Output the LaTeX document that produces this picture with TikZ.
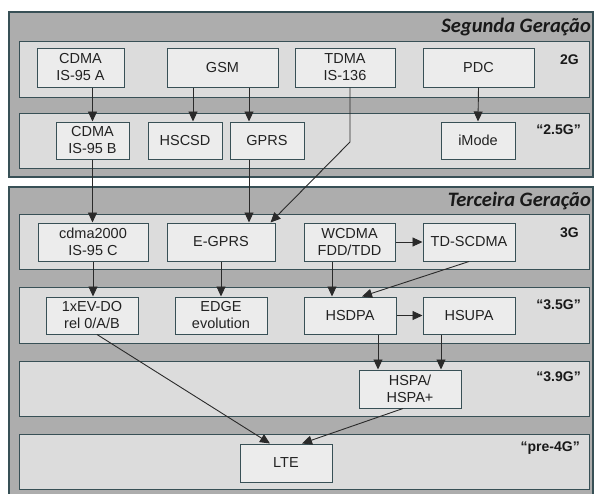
\documentclass[tikz,border=0pt]{standalone}
\usepackage{fontspec}
\setmainfont{Liberation Sans}
\newfontfamily\titlefont{Carlito}
\usetikzlibrary{arrows.meta}

\definecolor{edgecol}{HTML}{385056}
\definecolor{panelfill}{HTML}{ADADAD}
\definecolor{rowfill}{HTML}{DCDCDC}
\definecolor{boxfill}{HTML}{ECECEC}
\definecolor{txtcol}{HTML}{222222}
\definecolor{linecol}{HTML}{2A2A2A}

\tikzset{
  panel/.style={draw=edgecol, line width=1.1pt, fill=panelfill},
  band/.style={draw=edgecol, line width=1pt, fill=rowfill},
  techbox/.style={draw=edgecol, line width=1pt, fill=boxfill, align=center,
    inner sep=0pt, text=txtcol, font=\fontsize{14.5}{17}\selectfont},
  genlabel/.style={anchor=east, inner sep=0pt, text=black!90,
    font=\fontsize{14}{16}\selectfont\bfseries},
  gentitle/.style={anchor=base east, inner sep=0pt, text=black!90,
    font=\titlefont\fontsize{20.5}{23}\selectfont\bfseries\itshape},
  arr/.style={draw=linecol, line width=0.9pt,
    -{Triangle[length=10pt,width=9pt]}},
}

\begin{document}
\begin{tikzpicture}[x=1pt, y=-1pt]
\useasboundingbox[fill=white] (0,0) rectangle (594,493);

% second generation panel
\path[panel] (9,12) rectangle (593,177);
\node[gentitle] (t2) at (591,32) {Segunda Geração};
\path[band] (19,41) rectangle (589,97);
\path[band] (19,113) rectangle (589,168);

% third generation panel
\path[panel] (9,187) rectangle (593,497);
\node[gentitle] (t3) at (591,206) {Terceira Geração};
\path[band] (19,214) rectangle (589,269);
\path[band] (19,287) rectangle (589,343);
\path[band] (19,361) rectangle (589,416);
\path[band] (19,434) rectangle (589,489);

% generation labels
\node[genlabel] (l2g)  at (579,60)  {2G};
\node[genlabel] (l25g) at (581,130) {“2.5G”};
\node[genlabel] (l3g)  at (579,233) {3G};
\node[genlabel] (l35g) at (581,305) {“3.5G”};
\node[genlabel] (l39g) at (581,377) {“3.9G”};
\node[genlabel] (l4g)  at (580,448) {“pre-4G”};

% 2G
\node[techbox, minimum width=87pt,  minimum height=39pt] (a95a) at (80.5,67.5) {CDMA\\IS-95 A};
\node[techbox, minimum width=111pt, minimum height=39pt] (gsm)  at (222.5,67.5) {GSM};
\node[techbox, minimum width=100pt, minimum height=39pt] (tdma) at (345,67.5) {TDMA\\IS-136};
\node[techbox, minimum width=111pt, minimum height=39pt] (pdc)  at (478.5,67.5) {PDC};

% 2.5G
\node[techbox, minimum width=73pt, minimum height=37pt] (b95)   at (92.5,140.5) {CDMA\\IS-95 B};
\node[techbox, minimum width=74pt, minimum height=37pt] (hscsd) at (185,140.5) {HSCSD};
\node[techbox, minimum width=74pt, minimum height=37pt] (gprs)  at (267,140.5) {GPRS};
\node[techbox, minimum width=74pt, minimum height=37pt] (imode) at (478,140.5) {iMode};

% 3G
\node[techbox, minimum width=110pt, minimum height=38pt] (c2k)     at (93,242) {cdma2000\\IS-95 C};
\node[techbox, minimum width=108pt, minimum height=38pt] (egprs)   at (221,242) {E-GPRS};
\node[techbox, minimum width=91pt,  minimum height=38pt] (wcdma)   at (349.5,242) {WCDMA\\FDD/TDD};
\node[techbox, minimum width=92pt,  minimum height=38pt] (tdscdma) at (469,242) {TD-SCDMA};

% 3.5G
\node[techbox, minimum width=92pt, minimum height=37pt] (evdo)  at (92,315.5) {1xEV-DO\\rel 0/A/B};
\node[techbox, minimum width=92pt, minimum height=37pt] (edge)  at (221,315.5) {EDGE\\evolution};
\node[techbox, minimum width=92pt, minimum height=37pt] (hsdpa) at (350,315.5) {HSDPA};
\node[techbox, minimum width=92pt, minimum height=37pt] (hsupa) at (469,315.5) {HSUPA};

% 3.9G and pre-4G
\node[techbox, minimum width=102pt, minimum height=38pt] (hspa) at (410,389) {HSPA/\\HSPA+};
\node[techbox, minimum width=92pt,  minimum height=38pt] (lte)  at (286,463) {LTE};

% connector attachment points
\coordinate (gh)  at ([xshift=8pt]hscsd.north);
\coordinate (gg)  at ([xshift=-18pt]gprs.north);
\coordinate (ge)  at ([xshift=-18pt]gprs.south);
\coordinate (tb)  at (350,142);
\coordinate (wh)  at ([xshift=-18pt]hsdpa.north);
\coordinate (dh)  at ([xshift=28pt]hsdpa.south);
\coordinate (uh)  at ([xshift=-28pt]hsupa.south);

% evolution paths
\draw[arr] (a95a.south -| b95.north) -- (b95.north);
\draw[arr] (gh |- gsm.south) -- (gh);
\draw[arr] (gg |- gsm.south) -- (gg);
\draw[arr] (pdc.south) -- (imode.north);
\draw[arr] (tb |- tdma.south) -- (tb) -- ([xshift=-5pt]egprs.north east);

\draw[arr] (b95.south) -- (b95.south |- c2k.north);
\draw[arr] (ge) -- (ge |- egprs.north);
\draw[arr] (wcdma) -- (tdscdma);

\draw[arr] (c2k.south) -- (c2k.south |- evdo.north);
\draw[arr] (egprs.south) -- (edge.north);
\draw[arr] (wh |- wcdma.south) -- (wh);
\draw[arr] (tdscdma.south) -- ([xshift=12pt]hsdpa.north);
\draw[arr] (hsdpa.east) -- (hsupa.west);

\draw[arr] (dh) -- (dh |- hspa.north);
\draw[arr] (uh) -- (uh |- hspa.north);

\draw[arr] ([xshift=5pt]evdo.south) -- ([xshift=-16pt]lte.north);
\draw[arr] ([xshift=-7pt]hspa.south) -- ([xshift=16pt]lte.north);
\end{tikzpicture}
\end{document}
